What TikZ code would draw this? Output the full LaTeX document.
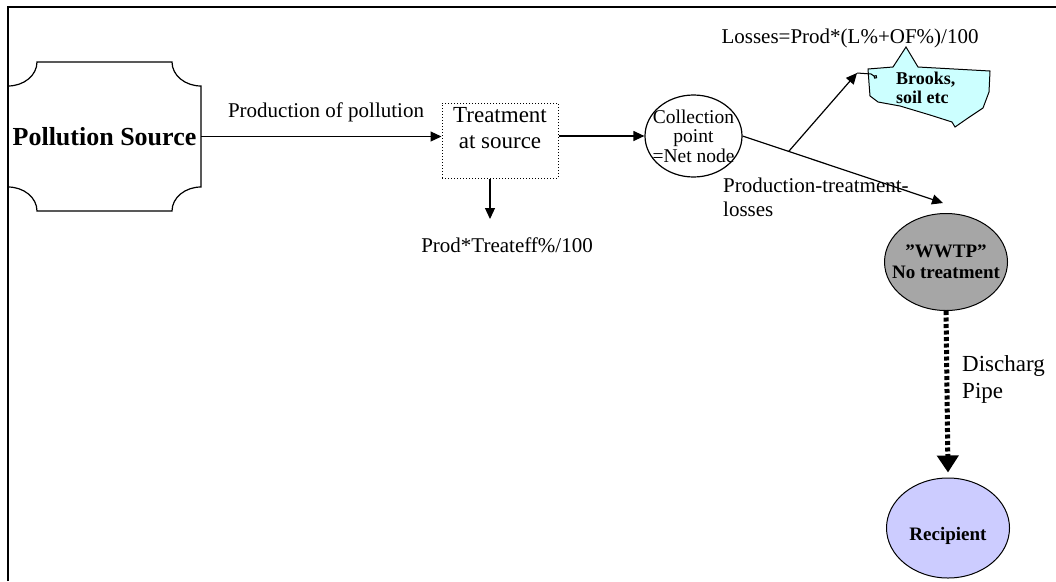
\documentclass[tikz,border=0pt]{standalone}
\usepackage{fontspec}
\setmainfont{Liberation Serif}
\usetikzlibrary{arrows.meta, shapes.geometric, calc}
\definecolor{brookblue}{HTML}{CCFFFF}
\definecolor{recipblue}{HTML}{CCCCFF}
\definecolor{wwtpgray}{HTML}{A6A6A6}

\tikzset{
  lbl/.style={font=\fontsize{21}{24}\selectfont, inner sep=0pt},
  arr/.style={-{Triangle[length=11pt,width=10pt]}, line width=1.2pt},
  outline/.style={line width=1.2pt},
  trtbox/.style={draw, dotted, line width=1pt, minimum width=116, minimum height=75},
  colnode/.style={ellipse, draw, line width=1.2pt, minimum width=97, minimum height=82, inner sep=0pt},
  coltext/.style={inner sep=0pt, align=center, font=\fontsize{19.5}{19.5}\selectfont},
  wwtpnode/.style={ellipse, draw, line width=1pt, fill=wwtpgray, minimum width=123,
    minimum height=97, inner sep=0pt},
  rcpnode/.style={ellipse, draw, line width=1pt, fill=recipblue, minimum width=123,
    minimum height=100, inner sep=0pt},
  boldtext/.style={inner sep=0pt, align=center, font=\bfseries\fontsize{19}{21}\selectfont},
  pipe/.style={line width=5pt, dash pattern=on 4pt off 2.5pt, -{Triangle[length=17pt,width=21pt]}}
}

\begin{document}
\begin{tikzpicture}[x=1pt,y=-1pt]
\useasboundingbox (0,0) rectangle (1056,581);
% frame
\draw[line width=2pt] (8,581) -- (8,7) -- (1060,7);

% pollution source
\draw[outline] (37,62) -- (172,62) arc[start angle=180,end angle=90,x radius=29,y radius=24]
  -- (201,187) arc[start angle=270,end angle=180,x radius=29,y radius=24]
  -- (37,211) arc[start angle=360,end angle=270,x radius=29,y radius=24]
  -- (8,86) arc[start angle=90,end angle=0,x radius=29,y radius=24] -- cycle;
\node[minimum width=193, minimum height=149, inner sep=0pt,
  font=\bfseries\fontsize{26}{28}\selectfont] (src) at (104.5,136.5) {Pollution Source};

% treatment
\node[trtbox] (trt) at (500,140.5) {};
\node[lbl, font=\fontsize{23}{26}\selectfont, align=center] (trttxt) at (500,128) {Treatment\\at source};
\node[colnode] (col) at (693.5,136) {};
\node[coltext] (coltxt) at (col.center) {Collection\\point\\=Net node};

\draw[arr] (src.east) -- (src.east -| trt.west);
\node[lbl] (prodlbl) at (326,112) {Production of pollution};
\draw[arr] (trt.east |- col.west) -- (col.west);

\coordinate (tdown) at (490,219);
\draw[arr] (tdown |- trt.south) -- (tdown);
\node[lbl] (efflbl) at (507,245) {Prod*Treateff\%/100};

% brooks
\draw[line width=1pt, fill=brookblue] (868,69) -- (893,67) -- (906,47) -- (918,67) -- (990,71)
  -- (989,92) -- (983,108) -- (968,118) -- (955,127) -- (952,122) -- (930,115) -- (900,106)
  -- (878,102) -- (870,96) -- (869,83) -- cycle;
\node[font=\bfseries\fontsize{18}{19}\selectfont, align=left, anchor=west, inner sep=0pt] (brk) at (896,88) {Brooks,\\soil etc};
\node[lbl] (losslbl) at (850,38) {Losses=Prod*(L\%+OF\%)/100};

% wwtp and recipient
\node[wwtpnode] (wwtp) at (946,262) {};
\node[boldtext] (wwtptxt) at (wwtp.center) {”WWTP”\\No treatment};
\node[rcpnode] (rcp) at (948,528) {};
\node[boldtext] (rcptxt) at ($(rcp.center)+(0,8)$) {Recipient};

\coordinate (wtip) at ($(wwtp.north)+(-3,-10)$);
\coordinate (br) at ($(col.east)!0.23!(wtip)$);
\coordinate (ltip) at (857,73);
\draw[arr] (col.east) -- (wtip);
\draw[arr] (br) -- (ltip);
\draw[line width=1pt, -{Circle[open,length=4pt,width=4pt]}] (ltip) -- ++(14,1) -- ++(6,4);
\node[lbl, align=left, anchor=north west] (ptlbl) at (723,178) {Production-treatment-\\losses};

\draw[pipe] (wwtp.south) -- ($(rcp.north)+(0,-5)$);
\node[lbl, font=\fontsize{23}{27}\selectfont, align=left, anchor=north west] (pipelbl) at (962,355) {Discharg\\Pipe};
\end{tikzpicture}
\end{document}
